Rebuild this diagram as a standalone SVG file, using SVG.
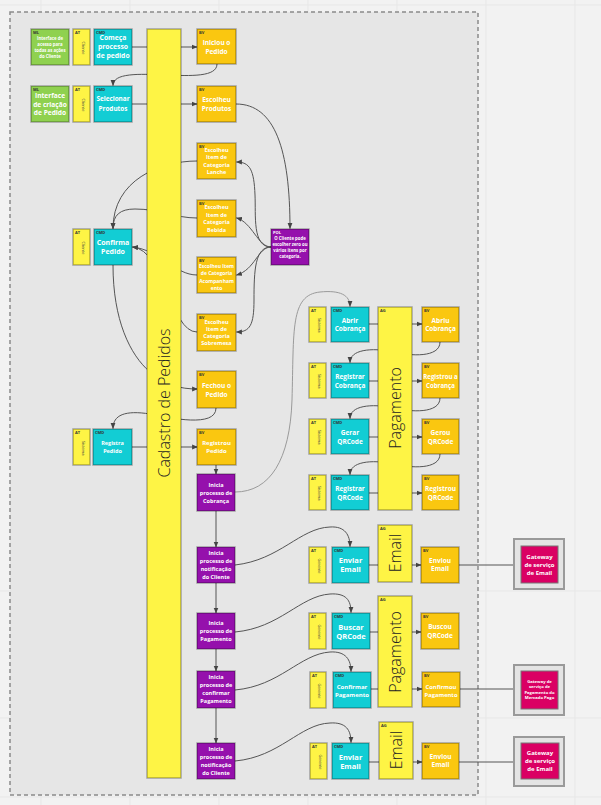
<svg xmlns="http://www.w3.org/2000/svg" width="601" height="805" viewBox="0 0 601 805">
  <style>
    .bg{fill:#f2f2f2}
    .grid{stroke:#e7e7e7;stroke-width:1}
    .frame{fill:#e6e6e6;stroke:#8a8a8a;stroke-width:1.5;stroke-dasharray:4 3}
    .n{stroke:#000;stroke-opacity:.3;stroke-width:1.5}
    .ml{fill:#8fd14f}
    .at{fill:#fef445}
    .cmd{fill:#12cdd4}
    .bv{fill:#fac710}
    .pr{fill:#9510ac}
    .ag{fill:#fef445}
    .gw{fill:#e4e4e4;stroke:#9a9a9a;stroke-width:2}
    .pk{fill:#da0063;stroke:#777;stroke-width:1}
    .t{font-family:"Open Sans","Liberation Sans",sans-serif;fill:#fff;font-weight:700;text-anchor:middle}
    .lb{font-family:"Open Sans","Liberation Sans",sans-serif;fill:#333;font-weight:700;font-size:4px}
    .atx{font-family:"Open Sans","Liberation Sans",sans-serif;fill:#444;font-size:4px;text-anchor:middle}
    .big{font-family:"Open Sans","Liberation Sans",sans-serif;fill:#222;font-weight:300;text-anchor:middle}
    .c{fill:none;stroke:#555;stroke-width:1}
    .cl{fill:none;stroke:#9a9a9a;stroke-width:1}
  </style>
  <defs>
    <marker id="ah" viewBox="0 0 10 10" refX="9" refY="5" markerWidth="6" markerHeight="6" markerUnits="userSpaceOnUse" orient="auto">
      <path d="M0,1 L10,5 L0,9 z" fill="#444"/>
    </marker>
  </defs>

  <!-- canvas and board grid -->
  <rect class="bg" x="0" y="0" width="601" height="805"/>
  <g class="grid">
    <line x1="41" y1="0" x2="41" y2="805"/>
    <line x1="130" y1="0" x2="130" y2="805"/>
    <line x1="219" y1="0" x2="219" y2="805"/>
    <line x1="308" y1="0" x2="308" y2="805"/>
    <line x1="397" y1="0" x2="397" y2="805"/>
    <line x1="486" y1="0" x2="486" y2="805"/>
    <line x1="575" y1="0" x2="575" y2="805"/>
    <line x1="0" y1="5" x2="601" y2="5"/>
    <line x1="0" y1="591" x2="601" y2="591"/>
    <line x1="0" y1="718" x2="601" y2="718"/>
    <line x1="0" y1="797" x2="601" y2="797"/>
  </g>
  <rect class="frame" x="10" y="12" width="468" height="783"/>

  <!-- connectors -->
  <g id="connectors">
    <path class="c" d="M132,47 L197,47" marker-end="url(#ah)"/>
    <path class="c" d="M132,104 L197,104" marker-end="url(#ah)"/>
    <path class="c" d="M217,64 C217,90 113,60 113,85.5" marker-end="url(#ah)"/>
    <path class="c" d="M236,104 C275,104 290,150 290,228.5" marker-end="url(#ah)"/>
    <path class="c" d="M271,247 C252,247 256,215 255,195 C254,170 250,162 236.5,162" marker-end="url(#ah)"/>
    <path class="c" d="M271,247 C258,247 252,222 236.5,218" marker-end="url(#ah)"/>
    <path class="c" d="M271,247 C258,247 255,270 236.5,275" marker-end="url(#ah)"/>
    <path class="c" d="M271,247 C255,247 254,270 254,300 C254,325 250,332 236.5,332" marker-end="url(#ah)"/>
    <path class="c" d="M197,161 C160,161 113,180 113,228.5" marker-end="url(#ah)"/>
    <path class="c" d="M197,218 C175,218 160,209 135,209 C120,209 113,215 113,228.5" marker-end="url(#ah)"/>
    <path class="c" d="M197,275 C175,275 160,250 132.5,247" marker-end="url(#ah)"/>
    <path class="c" d="M197,332 C170,332 165,250 132.5,247" marker-end="url(#ah)"/>
    <path class="c" d="M113,265 C113,320 130,355 150,372 C165,385 180,389 197.5,389" marker-end="url(#ah)"/>
    <path class="c" d="M216,408 C216,428 170,418 150,414 C125,410 113,415 113,428.5" marker-end="url(#ah)"/>
    <path class="c" d="M132,447 L197.5,447" marker-end="url(#ah)"/>
    <path class="c" d="M216,465 L216,474" marker-end="url(#ah)"/>
    <path class="cl" d="M235,492 C270,492 290,460 292,400 C294,330 290,295 320,292 C340,290 350,295 350,306.5" marker-end="url(#ah)"/>
    <path class="c" d="M369,324 L422,324" marker-end="url(#ah)"/>
    <path class="c" d="M369,381 L422,381" marker-end="url(#ah)"/>
    <path class="c" d="M369,437 L422,437" marker-end="url(#ah)"/>
    <path class="c" d="M369,493 L422,493" marker-end="url(#ah)"/>
    <path class="c" d="M440,342 C440,358 410,356 395,352 C370,347 350,350 350,362.5" marker-end="url(#ah)"/>
    <path class="c" d="M440,398 C440,414 410,412 395,408 C370,403 350,406 350,418.5" marker-end="url(#ah)"/>
    <path class="c" d="M440,454 C440,470 410,468 395,464 C370,459 350,462 350,474.5" marker-end="url(#ah)"/>
    <path class="c" d="M216,511 L216,547" marker-end="url(#ah)"/>
    <path class="c" d="M235,565 C280,560 300,528 330,527 C345,526 350,535 350,546.5" marker-end="url(#ah)"/>
    <path class="c" d="M369,565 L421,565" marker-end="url(#ah)"/>
    <path class="c" d="M459,565 L520.5,565" marker-end="url(#ah)"/>
    <path class="c" d="M216,583 L216,613" marker-end="url(#ah)"/>
    <path class="c" d="M235,632 C280,628 300,596 330,594 C346,593 351,600 351,612.5" marker-end="url(#ah)"/>
    <path class="c" d="M370,632 L421,632" marker-end="url(#ah)"/>
    <path class="c" d="M216,649 L216,671" marker-end="url(#ah)"/>
    <path class="c" d="M235,690 C280,686 300,654 330,652 C346,651 351,660 351,671.5" marker-end="url(#ah)"/>
    <path class="c" d="M371,689 L422,689" marker-end="url(#ah)"/>
    <path class="c" d="M460,689 L520.5,689" marker-end="url(#ah)"/>
    <path class="c" d="M216,708 L216,743" marker-end="url(#ah)"/>
    <path class="c" d="M235,761 C280,757 300,724 330,723 C346,722 351,730 351,742.5" marker-end="url(#ah)"/>
    <path class="c" d="M369,762 L422,762" marker-end="url(#ah)"/>
    <path class="c" d="M459,762 L520.5,762" marker-end="url(#ah)"/>
  </g>

  <!-- aggregate: Cadastro de Pedidos -->
  <g id="ag-cadastro">
    <rect class="ag n" x="147" y="29" width="34" height="749"/>
    <text class="big" font-size="16" transform="translate(169.5,403) rotate(-90)">Cadastro de Pedidos</text>
  </g>

  <!-- first command row -->
  <g id="ml-acesso">
    <rect class="ml n" x="31" y="29" width="38" height="36"/>
    <text class="lb" x="33" y="34">ML</text>
    <text class="t" font-size="4.3"><tspan x="50" y="39.5">Interface de</tspan><tspan x="50" y="45.5">acesso para</tspan><tspan x="50" y="51.5">todas as ações</tspan><tspan x="50" y="57.5">do Cliente</tspan></text>
  </g>
  <g id="at-cliente-1">
    <rect class="at n" x="73" y="29" width="17" height="36"/>
    <text class="lb" x="75" y="34">AT</text>
    <text class="atx" transform="translate(81.5,48) rotate(90)">Cliente</text>
  </g>
  <g id="cmd-comeca">
    <rect class="cmd n" x="94" y="29" width="38" height="36"/>
    <text class="lb" x="96" y="34">CMD</text>
    <text class="t" font-size="6.8"><tspan x="113" y="40.4">Começa</tspan><tspan x="113" y="49.4">processo</tspan><tspan x="113" y="58.4">de pedido</tspan></text>
  </g>
  <g id="bv-iniciou">
    <rect class="bv n" x="197" y="29" width="39" height="35"/>
    <text class="lb" x="199" y="34">BV</text>
    <text class="t" font-size="6.5"><tspan x="216.5" y="45.3">Iniciou o</tspan><tspan x="216.5" y="54.3">Pedido</tspan></text>
  </g>

  <!-- second command row -->
  <g id="ml-criacao">
    <rect class="ml n" x="31" y="86" width="38" height="36"/>
    <text class="lb" x="33" y="91">ML</text>
    <text class="t" font-size="6.6"><tspan x="50" y="98.3">Interface</tspan><tspan x="50" y="106.8">de criação</tspan><tspan x="50" y="115.3">de Pedido</tspan></text>
  </g>
  <g id="at-cliente-2">
    <rect class="at n" x="73" y="86" width="17" height="36"/>
    <text class="lb" x="75" y="91">AT</text>
    <text class="atx" transform="translate(81.5,105) rotate(90)">Cliente</text>
  </g>
  <g id="cmd-selecionar">
    <rect class="cmd n" x="94" y="86" width="38" height="36"/>
    <text class="lb" x="96" y="91">CMD</text>
    <text class="t" font-size="6.4"><tspan x="113" y="101.2">Selecionar</tspan><tspan x="113" y="111.2">Produtos</tspan></text>
  </g>
  <g id="bv-escolheu-produtos">
    <rect class="bv n" x="197" y="86" width="39" height="36"/>
    <text class="lb" x="199" y="91">BV</text>
    <text class="t" font-size="6.5"><tspan x="216.5" y="102.3">Escolheu</tspan><tspan x="216.5" y="111.3">Produtos</tspan></text>
  </g>

  <!-- category choices -->
  <g id="bv-lanche">
    <rect class="bv n" x="197" y="143" width="39" height="36"/>
    <text class="lb" x="199" y="148">BV</text>
    <text class="t" font-size="5.5"><tspan x="216.5" y="151.9">Escolheu</tspan><tspan x="216.5" y="159.4">Item de</tspan><tspan x="216.5" y="166.9">Categoria</tspan><tspan x="216.5" y="174.4">Lanche</tspan></text>
  </g>
  <g id="bv-bebida">
    <rect class="bv n" x="197" y="200" width="39" height="37"/>
    <text class="lb" x="199" y="205">BV</text>
    <text class="t" font-size="5.5"><tspan x="216.5" y="209.4">Escolheu</tspan><tspan x="216.5" y="216.9">Item de</tspan><tspan x="216.5" y="224.4">Categoria</tspan><tspan x="216.5" y="231.9">Bebida</tspan></text>
  </g>
  <g id="bv-acompanhamento">
    <rect class="bv n" x="197" y="257" width="39" height="36"/>
    <text class="lb" x="199" y="262">BV</text>
    <text class="t" font-size="5"><tspan x="216.5" y="267.7">Escolheu Item</tspan><tspan x="216.5" y="275.2">de Categoria</tspan><tspan x="216.5" y="282.7">Acompanham</tspan><tspan x="216.5" y="290.2">ento</tspan></text>
  </g>
  <g id="bv-sobremesa">
    <rect class="bv n" x="197" y="314" width="39" height="37"/>
    <text class="lb" x="199" y="319">BV</text>
    <text class="t" font-size="5.5"><tspan x="216.5" y="323.9">Escolheu</tspan><tspan x="216.5" y="330.9">Item de</tspan><tspan x="216.5" y="337.9">Categoria</tspan><tspan x="216.5" y="344.9">Sobremesa</tspan></text>
  </g>
  <g id="pol-categoria">
    <rect class="pr n" x="271" y="229" width="38" height="36"/>
    <text class="lb" x="273" y="234" style="fill:#fff">POL</text>
    <text class="t" font-size="4.3"><tspan x="290" y="239.5">O Cliente pode</tspan><tspan x="290" y="245.5">escolher zero ou</tspan><tspan x="290" y="251.5">vários itens por</tspan><tspan x="290" y="257.5">categoria.</tspan></text>
  </g>

  <!-- confirmation -->
  <g id="at-cliente-3">
    <rect class="at n" x="73" y="229" width="17" height="36"/>
    <text class="lb" x="75" y="234">AT</text>
    <text class="atx" transform="translate(81.5,248) rotate(90)">Cliente</text>
  </g>
  <g id="cmd-confirma">
    <rect class="cmd n" x="94" y="229" width="38" height="36"/>
    <text class="lb" x="96" y="234">CMD</text>
    <text class="t" font-size="7"><tspan x="113" y="245.4">Confirma</tspan><tspan x="113" y="254.4">Pedido</tspan></text>
  </g>
  <g id="bv-fechou">
    <rect class="bv n" x="197" y="371" width="39" height="37"/>
    <text class="lb" x="199" y="376">BV</text>
    <text class="t" font-size="6.5"><tspan x="216.5" y="387.8">Fechou o</tspan><tspan x="216.5" y="397.3">Pedido</tspan></text>
  </g>
  <g id="at-sistema-1">
    <rect class="at n" x="73" y="429" width="17" height="36"/>
    <text class="lb" x="75" y="434">AT</text>
    <text class="atx" transform="translate(81.5,448) rotate(90)">Sistema</text>
  </g>
  <g id="cmd-registra-pedido">
    <rect class="cmd n" x="93" y="429" width="39" height="36"/>
    <text class="lb" x="95" y="434">CMD</text>
    <text class="t" font-size="5.5"><tspan x="112.5" y="444.9">Registra</tspan><tspan x="112.5" y="452.9">Pedido</tspan></text>
  </g>
  <g id="bv-registrou-pedido">
    <rect class="bv n" x="197" y="429" width="39" height="36"/>
    <text class="lb" x="199" y="434">BV</text>
    <text class="t" font-size="6"><tspan x="216.5" y="445.1">Registrou</tspan><tspan x="216.5" y="453.1">Pedido</tspan></text>
  </g>

  <!-- process managers -->
  <g id="pr-cobranca">
    <rect class="pr n" x="197" y="474" width="38" height="37"/>
    <text class="t" font-size="5.5"><tspan x="216" y="486.9">Inicia</tspan><tspan x="216" y="494.9">processo de</tspan><tspan x="216" y="502.9">Cobrança</tspan></text>
  </g>
  <g id="pr-notificacao-1">
    <rect class="pr n" x="197" y="547" width="38" height="36"/>
    <text class="t" font-size="5.5"><tspan x="216" y="554.9">Inicia</tspan><tspan x="216" y="562.9">processo de</tspan><tspan x="216" y="570.9">notificação</tspan><tspan x="216" y="578.9">do Cliente</tspan></text>
  </g>
  <g id="pr-pagamento">
    <rect class="pr n" x="197" y="613" width="38" height="36"/>
    <text class="t" font-size="5.5"><tspan x="216" y="625.4">Inicia</tspan><tspan x="216" y="632.9">processo de</tspan><tspan x="216" y="640.9">Pagamento</tspan></text>
  </g>
  <g id="pr-confirmar">
    <rect class="pr n" x="197" y="671" width="38" height="37"/>
    <text class="t" font-size="5.5"><tspan x="216" y="678.9">Inicia</tspan><tspan x="216" y="686.9">processo de</tspan><tspan x="216" y="694.9">confirmar</tspan><tspan x="216" y="702.9">Pagamento</tspan></text>
  </g>
  <g id="pr-notificacao-2">
    <rect class="pr n" x="197" y="743" width="38" height="36"/>
    <text class="t" font-size="5.5"><tspan x="216" y="750.9">Inicia</tspan><tspan x="216" y="758.9">processo de</tspan><tspan x="216" y="766.9">notificação</tspan><tspan x="216" y="774.9">do Cliente</tspan></text>
  </g>

  <!-- Pagamento: cobrança and QR code -->
  <g id="at-sistema-2">
    <rect class="at n" x="309" y="307" width="17" height="35"/>
    <text class="lb" x="311" y="312">AT</text>
    <text class="atx" transform="translate(317.5,325) rotate(90)">Sistema</text>
  </g>
  <g id="cmd-abrir-cobranca">
    <rect class="cmd n" x="331" y="307" width="38" height="35"/>
    <text class="lb" x="333" y="312">CMD</text>
    <text class="t" font-size="6.5"><tspan x="350" y="323.3">Abrir</tspan><tspan x="350" y="331.3">Cobrança</tspan></text>
  </g>
  <g id="bv-abriu-cobranca">
    <rect class="bv n" x="422" y="307" width="37" height="35"/>
    <text class="lb" x="424" y="312">BV</text>
    <text class="t" font-size="6.5"><tspan x="440.5" y="323.3">Abriu</tspan><tspan x="440.5" y="331.3">Cobrança</tspan></text>
  </g>
  <g id="at-sistema-3">
    <rect class="at n" x="309" y="363" width="17" height="35"/>
    <text class="lb" x="311" y="368">AT</text>
    <text class="atx" transform="translate(317.5,381) rotate(90)">Sistema</text>
  </g>
  <g id="cmd-registrar-cobranca">
    <rect class="cmd n" x="331" y="363" width="38" height="35"/>
    <text class="lb" x="333" y="368">CMD</text>
    <text class="t" font-size="6.5"><tspan x="350" y="379.3">Registrar</tspan><tspan x="350" y="388.3">Cobrança</tspan></text>
  </g>
  <g id="bv-registrou-cobranca">
    <rect class="bv n" x="422" y="363" width="37" height="35"/>
    <text class="lb" x="424" y="368">BV</text>
    <text class="t" font-size="6.1"><tspan x="440.5" y="379.2">Registrou a</tspan><tspan x="440.5" y="388.2">Cobrança</tspan></text>
  </g>
  <g id="at-sistema-4">
    <rect class="at n" x="309" y="419" width="17" height="35"/>
    <text class="lb" x="311" y="424">AT</text>
    <text class="atx" transform="translate(317.5,437) rotate(90)">Sistema</text>
  </g>
  <g id="cmd-gerar-qrcode">
    <rect class="cmd n" x="331" y="419" width="38" height="35"/>
    <text class="lb" x="333" y="424">CMD</text>
    <text class="t" font-size="6.5"><tspan x="350" y="435.3">Gerar</tspan><tspan x="350" y="444.3">QRCode</tspan></text>
  </g>
  <g id="bv-gerou-qrcode">
    <rect class="bv n" x="422" y="419" width="37" height="35"/>
    <text class="lb" x="424" y="424">BV</text>
    <text class="t" font-size="6.5"><tspan x="440.5" y="435.3">Gerou</tspan><tspan x="440.5" y="444.3">QRCode</tspan></text>
  </g>
  <g id="at-sistema-5">
    <rect class="at n" x="309" y="475" width="17" height="35"/>
    <text class="lb" x="311" y="480">AT</text>
    <text class="atx" transform="translate(317.5,493) rotate(90)">Sistema</text>
  </g>
  <g id="cmd-registrar-qrcode">
    <rect class="cmd n" x="331" y="475" width="38" height="35"/>
    <text class="lb" x="333" y="480">CMD</text>
    <text class="t" font-size="6.5"><tspan x="350" y="491.3">Registrar</tspan><tspan x="350" y="500.3">QRCode</tspan></text>
  </g>
  <g id="bv-registrou-qrcode">
    <rect class="bv n" x="422" y="475" width="37" height="35"/>
    <text class="lb" x="424" y="480">BV</text>
    <text class="t" font-size="6.5"><tspan x="440.5" y="491.3">Registrou</tspan><tspan x="440.5" y="500.3">QRCode</tspan></text>
  </g>
  <g id="ag-pagamento-1">
    <rect class="ag n" x="378" y="307" width="34" height="203"/>
    <text class="lb" x="380" y="312">AG</text>
    <text class="big" font-size="16" transform="translate(400.5,408) rotate(-90)">Pagamento</text>
  </g>

  <!-- Email notification -->
  <g id="at-email-1">
    <rect class="at n" x="309" y="547" width="17" height="36"/>
    <text class="lb" x="311" y="552">AT</text>
    <text class="atx" transform="translate(317.5,566) rotate(90)">Gerente</text>
  </g>
  <g id="cmd-enviar-email-1">
    <rect class="cmd n" x="332" y="547" width="37" height="36"/>
    <text class="lb" x="334" y="552">CMD</text>
    <text class="t" font-size="7.5"><tspan x="350.5" y="562.6">Enviar</tspan><tspan x="350.5" y="571.6">Email</tspan></text>
  </g>
  <g id="ag-email-1">
    <rect class="ag n" x="378" y="525" width="34" height="57"/>
    <text class="lb" x="380" y="530">AG</text>
    <text class="big" font-size="16" transform="translate(400.5,553) rotate(-90)">Email</text>
  </g>
  <g id="bv-enviou-email-1">
    <rect class="bv n" x="421" y="547" width="38" height="36"/>
    <text class="lb" x="423" y="552">BV</text>
    <text class="t" font-size="6.5"><tspan x="440" y="563.3">Enviou</tspan><tspan x="440" y="571.3">Email</tspan></text>
  </g>
  <g id="gw-email-1">
    <rect class="gw" x="514" y="539" width="50" height="50"/>
    <rect class="pk" x="521" y="546" width="37" height="37"/>
    <text class="t" font-size="6"><tspan x="539.5" y="559.1">Gateway</tspan><tspan x="539.5" y="567.1">de serviço</tspan><tspan x="539.5" y="575.1">de Email</tspan></text>
  </g>

  <!-- Pagamento: QR code and confirmation -->
  <g id="at-gerente-1">
    <rect class="at n" x="309" y="613" width="17" height="36"/>
    <text class="lb" x="311" y="618">AT</text>
    <text class="atx" transform="translate(317.5,632) rotate(90)">Gerente</text>
  </g>
  <g id="cmd-buscar-qrcode">
    <rect class="cmd n" x="332" y="613" width="38" height="36"/>
    <text class="lb" x="334" y="618">CMD</text>
    <text class="t" font-size="7.5"><tspan x="351" y="629.6">Buscar</tspan><tspan x="351" y="638.6">QRCode</tspan></text>
  </g>
  <g id="bv-buscou-qrcode">
    <rect class="bv n" x="421" y="613" width="38" height="36"/>
    <text class="lb" x="423" y="618">BV</text>
    <text class="t" font-size="6.5"><tspan x="440" y="629.3">Buscou</tspan><tspan x="440" y="638.3">QRCode</tspan></text>
  </g>
  <g id="at-gerente-2">
    <rect class="at n" x="310" y="672" width="16" height="36"/>
    <text class="lb" x="312" y="677">AT</text>
    <text class="atx" transform="translate(318,691) rotate(90)">Gerente</text>
  </g>
  <g id="cmd-confirmar-pagamento">
    <rect class="cmd n" x="333" y="672" width="38" height="36"/>
    <text class="lb" x="335" y="677">CMD</text>
    <text class="t" font-size="6"><tspan x="352" y="688.6">Confirmar</tspan><tspan x="352" y="697.1">Pagamento</tspan></text>
  </g>
  <g id="ag-pagamento-2">
    <rect class="ag n" x="378" y="596" width="34" height="111"/>
    <text class="lb" x="380" y="601">AG</text>
    <text class="big" font-size="16" transform="translate(400.5,652) rotate(-90)">Pagamento</text>
  </g>
  <g id="bv-confirmou-pagamento">
    <rect class="bv n" x="422" y="672" width="38" height="35"/>
    <text class="lb" x="424" y="677">BV</text>
    <text class="t" font-size="5.8"><tspan x="441" y="689">Confirmou</tspan><tspan x="441" y="697">Pagamento</tspan></text>
  </g>
  <g id="gw-mercado-pago">
    <rect class="gw" x="514" y="665" width="50" height="50"/>
    <rect class="pk" x="521" y="671" width="37" height="38"/>
    <text class="t" font-size="4.2"><tspan x="539.5" y="682.5">Gateway de</tspan><tspan x="539.5" y="688">serviço de</tspan><tspan x="539.5" y="693.5">Pagamento do</tspan><tspan x="539.5" y="699">Mercado Pago</tspan></text>
  </g>

  <!-- Email notification (second) -->
  <g id="at-email-2">
    <rect class="at n" x="310" y="743" width="17" height="36"/>
    <text class="lb" x="312" y="748">AT</text>
    <text class="atx" transform="translate(318.5,762) rotate(90)">Gerente</text>
  </g>
  <g id="cmd-enviar-email-2">
    <rect class="cmd n" x="332" y="743" width="37" height="36"/>
    <text class="lb" x="334" y="748">CMD</text>
    <text class="t" font-size="7.5"><tspan x="350.5" y="759.6">Enviar</tspan><tspan x="350.5" y="768.6">Email</tspan></text>
  </g>
  <g id="ag-email-2">
    <rect class="ag n" x="379" y="722" width="34" height="57"/>
    <text class="lb" x="381" y="727">AG</text>
    <text class="big" font-size="16" transform="translate(401.5,750) rotate(-90)">Email</text>
  </g>
  <g id="bv-enviou-email-2">
    <rect class="bv n" x="422" y="743" width="37" height="36"/>
    <text class="lb" x="424" y="748">BV</text>
    <text class="t" font-size="6.5"><tspan x="440.5" y="759.3">Enviou</tspan><tspan x="440.5" y="767.3">Email</tspan></text>
  </g>
  <g id="gw-email-2">
    <rect class="gw" x="514" y="737" width="50" height="49"/>
    <rect class="pk" x="521" y="743" width="38" height="36"/>
    <text class="t" font-size="6"><tspan x="540" y="755.1">Gateway</tspan><tspan x="540" y="763.1">de serviço</tspan><tspan x="540" y="771.1">de Email</tspan></text>
  </g>
</svg>
